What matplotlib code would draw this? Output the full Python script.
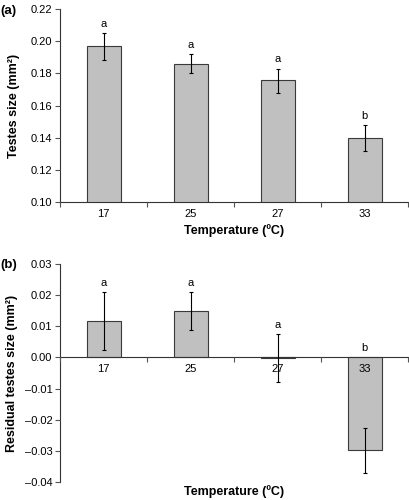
import matplotlib.pyplot as plt
import matplotlib.ticker as mticker
import numpy as np

# --- data ---
temps = ["17", "25", "27", "33"]

size_mean = [0.197, 0.186, 0.176, 0.140]
size_lo = [0.188, 0.180, 0.168, 0.132]
size_hi = [0.205, 0.192, 0.183, 0.148]
size_letters = ["a", "a", "a", "b"]

resid_mean = [0.0118, 0.0150, -0.0002, -0.0298]
resid_lo = [0.0025, 0.0088, -0.0078, -0.0370]
resid_hi = [0.0210, 0.0210, 0.0076, -0.0225]
resid_letters = ["a", "a", "a", "b"]

plt.rcParams.update(
    {
        "font.family": ["Liberation Sans", "DejaVu Sans"],
        "xtick.labelsize": 8,
        "ytick.labelsize": 8,
        "axes.linewidth": 0.8,
        "axes.edgecolor": "#333333",
    }
)

BAR_COLOR = "#c0c0c0"
EDGE_COLOR = "#3a3a3a"

# two decimals, en dash for negatives as in the original
fmt = mticker.FuncFormatter(lambda v, _: f"{v:.2f}".replace("-", "\u2013"))


def draw_panel(ax, means, lo, hi, letters):
    x = np.arange(len(temps))
    means = np.asarray(means)
    yerr = [means - np.asarray(lo), np.asarray(hi) - means]
    ax.bar(x, means, width=0.39, color=BAR_COLOR, edgecolor=EDGE_COLOR,
           linewidth=0.8, zorder=2)
    ax.errorbar(x, means, yerr=yerr, fmt="none", ecolor="black",
                elinewidth=0.8, capsize=1.5, capthick=0.8, zorder=3)
    for xi, top, lab in zip(x, hi, letters):
        ax.annotate(lab, (xi, max(top, 0.0)), xytext=(0, 3),
                    textcoords="offset points", ha="center", va="bottom",
                    fontsize=8)

    # axis (and its tick labels) drawn above the bars
    ax.set_axisbelow(False)
    ax.set_xlim(-0.5, len(temps) - 0.5)
    # tick marks between categories, labels at the centres
    ax.set_xticks(np.arange(len(temps) + 1) - 0.5)
    ax.set_xticklabels([])
    ax.set_xticks(x, minor=True)
    ax.set_xticklabels(temps, minor=True)
    ax.tick_params(axis="x", which="major", direction="out", length=3.5,
                   width=0.8, color="#555555")
    ax.tick_params(axis="x", which="minor", length=0, pad=5)
    ax.tick_params(axis="y", direction="out", length=3.5, width=0.8,
                   color="#555555", pad=2)
    ax.yaxis.set_major_formatter(fmt)
    ax.spines["top"].set_visible(False)
    ax.spines["right"].set_visible(False)


fig = plt.figure(figsize=(4.09, 5.0), dpi=100)

# (a) testes size
ax1 = fig.add_axes([0.147, 0.596, 0.851, 0.386])
draw_panel(ax1, size_mean, size_lo, size_hi, size_letters)
ax1.set_ylim(0.10, 0.22)
ax1.set_yticks(np.arange(0.10, 0.2201, 0.02))
ax1.set_ylabel("Testes size (mm²)", fontsize=9, fontweight="bold", labelpad=8)
ax1.set_xlabel("Temperature (ºC)", fontsize=9, fontweight="bold", labelpad=4)
fig.text(0.0, 0.978, "(a)", fontsize=9.5, fontweight="bold", va="center")

# (b) residual testes size
ax2 = fig.add_axes([0.147, 0.036, 0.851, 0.436])
draw_panel(ax2, resid_mean, resid_lo, resid_hi, resid_letters)
ax2.set_ylim(-0.04, 0.03)
ax2.set_yticks(np.arange(-0.04, 0.0301, 0.01))
ax2.spines["bottom"].set_position(("data", 0.0))
ax2.set_ylabel("Residual testes size (mm²)", fontsize=9, fontweight="bold",
               labelpad=5)
ax2.text(0.5, -0.015, "Temperature (ºC)", transform=ax2.transAxes,
         ha="center", va="top", fontsize=9, fontweight="bold")
fig.text(0.0, 0.47, "(b)", fontsize=9.5, fontweight="bold", va="center")

fig.savefig("out.png", dpi=100)
